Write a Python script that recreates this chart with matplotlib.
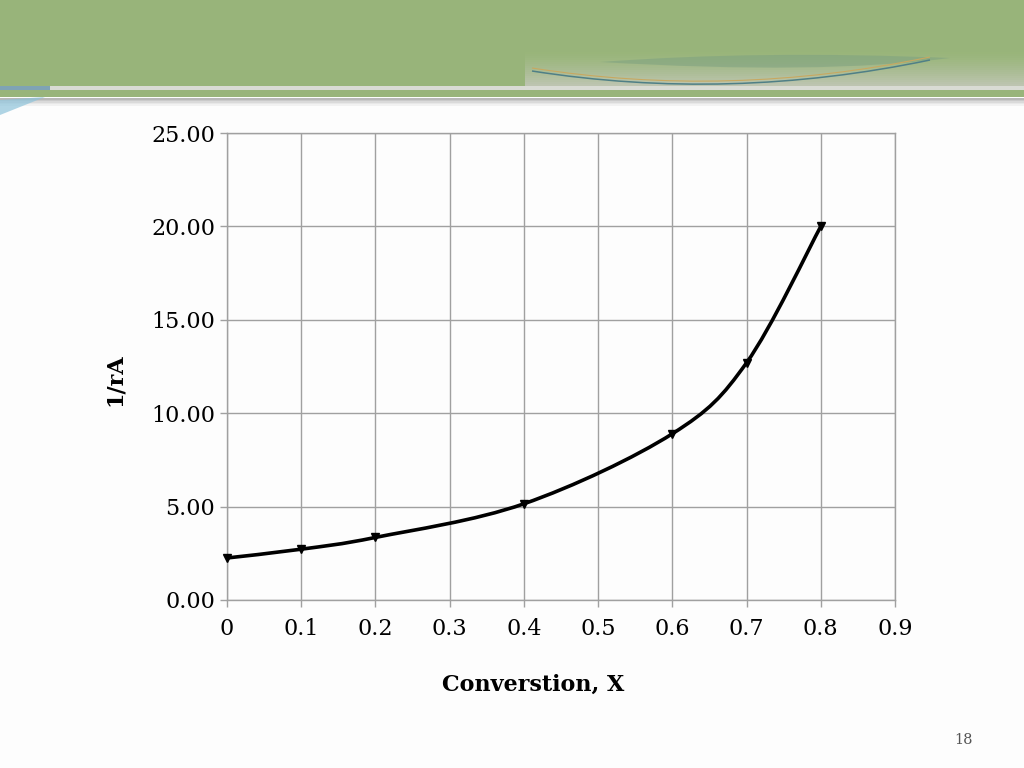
import matplotlib
matplotlib.use("Agg")
import matplotlib.pyplot as plt
import numpy as np
from matplotlib.path import Path
from matplotlib.patches import PathPatch, Rectangle, Polygon

# ---- data ----
conversion = [0.0, 0.1, 0.2, 0.4, 0.6, 0.7, 0.8]
inv_rate = [2.25, 2.72, 3.35, 5.15, 8.90, 12.70, 20.00]
x_ticks = [0, 0.1, 0.2, 0.3, 0.4, 0.5, 0.6, 0.7, 0.8, 0.9]
x_tick_labels = ["0", "0.1", "0.2", "0.3", "0.4", "0.5", "0.6", "0.7", "0.8", "0.9"]
y_ticks = [0, 5, 10, 15, 20, 25]
y_tick_labels = ["0.00", "5.00", "10.00", "15.00", "20.00", "25.00"]
x_title = "Converstion, X"
y_title = "1/rA"
page_number = "18"

SERIF = ["DejaVu Serif"]
W, H = 1024, 768


def fx(px):
    return px / W


def fy(py):
    return 1 - py / H


fig = plt.figure(figsize=(10.24, 7.68), dpi=100)
fig.patch.set_facecolor("#FDFDFD")
tf = fig.transFigure

# ---- slide header decoration ----
green = "#98B47A"
fig.add_artist(Rectangle((0, fy(86)), 1, 86 / H, transform=tf,
                         facecolor=green, edgecolor="none", zorder=0))
# lighter band on the right of the header (vertical gradient)
band_top, band_bot = 52, 86
nb = 17
for i in range(nb):
    f = (i / (nb - 1)) ** 1.3
    col = np.array([0.60, 0.71, 0.48]) * (1 - f) + np.array([0.74, 0.77, 0.69]) * f
    y0 = band_top + (band_bot - band_top) * i / nb
    fig.add_artist(Rectangle((fx(525), fy(y0 + (band_bot - band_top) / nb)), 1 - fx(525),
                             (band_bot - band_top) / nb / H, transform=tf,
                             facecolor=col, edgecolor="none", zorder=0.5))
# darker shaded lens above swoosh
lens = Path([(fx(600), fy(62)), (fx(760), fy(50)), (fx(950), fy(58)),
             (fx(820), fy(75)), (fx(600), fy(62))],
            [Path.MOVETO, Path.CURVE3, Path.CURVE3, Path.CURVE3, Path.CURVE3])
fig.add_artist(PathPatch(lens, transform=tf, facecolor="#7A9F80", edgecolor="none",
                         alpha=0.5, zorder=0.6))
# swoosh lines (quadratic Bezier)
for dy, c, lw in [(0, "#4F7F86", 1.1), (-3, "#C8A860", 0.8)]:
    sw = Path([(fx(532), fy(71 + dy)), (fx(729), fy(102 + dy)), (fx(930), fy(60 + dy))],
              [Path.MOVETO, Path.CURVE3, Path.CURVE3])
    fig.add_artist(PathPatch(sw, transform=tf, facecolor="none", edgecolor=c, lw=lw, zorder=0.7))
# light strip
fig.add_artist(Rectangle((0, fy(90)), 1, 4 / H, transform=tf,
                         facecolor="#D9DBD4", edgecolor="none", zorder=0.8))
fig.add_artist(Rectangle((0, fy(97)), 1, 7 / H, transform=tf,
                         facecolor=green, edgecolor="none", zorder=0.8))
# shadow under header
for i, c in enumerate(["#B8B8B8", "#CACACA", "#DADADA", "#E8E8E8", "#F2F2F2"]):
    fig.add_artist(Rectangle((0, fy(98 + (i + 1) * 1.5)), 1, 1.5 / H,
                             transform=tf, facecolor=c, edgecolor="none", zorder=0.8))
# little blue corner swoosh
fig.add_artist(Polygon([[0, fy(100)], [fx(45), fy(97)], [0, fy(115)]],
                       closed=True, transform=tf, facecolor="#8EC3DA",
                       edgecolor="none", alpha=0.7, zorder=0.9))
fig.add_artist(Rectangle((0, fy(90)), fx(50), 4 / H, transform=tf,
                         facecolor="#7FA3B5", edgecolor="none", zorder=0.9))

# ---- chart ----
ax = fig.add_axes([fx(227), fy(600), (895 - 227) / W, (600 - 133) / H])
ax.set_facecolor("#FDFDFD")
ax.set_xlim(0, 0.9)
ax.set_ylim(0, 25)
ax.set_xticks(x_ticks)
ax.set_xticklabels(x_tick_labels)
ax.set_yticks(y_ticks)
ax.set_yticklabels(y_tick_labels)
ax.grid(True, color="#A0A0A0", linewidth=1.0)
ax.set_axisbelow(True)
for s in ax.spines.values():
    s.set_color("#A0A0A0")
    s.set_linewidth(1.0)
ax.tick_params(axis="both", direction="out", length=5, width=1.0, color="#A0A0A0",
               labelsize=16)
ax.tick_params(axis="x", pad=8)
ax.tick_params(axis="y", pad=3.5)
for lab in ax.get_xticklabels() + ax.get_yticklabels():
    lab.set_family(SERIF)

# smoothed line (Catmull-Rom to cubic Bezier, like a spreadsheet "smoothed line")
pts = np.column_stack([np.array(conversion), np.array(inv_rate)])
n = len(pts)
verts = [pts[0]]
codes = [Path.MOVETO]
for i in range(n - 1):
    p0 = pts[i - 1] if i > 0 else pts[i]
    p1 = pts[i]
    p2 = pts[i + 1]
    p3 = pts[i + 2] if i + 2 < n else pts[i + 1]
    c1 = p1 + (p2 - p0) / 6.0
    c2 = p2 - (p3 - p1) / 6.0
    verts += [c1, c2, p2]
    codes += [Path.CURVE4] * 3
ax.add_patch(PathPatch(Path(verts, codes), facecolor="none", edgecolor="black",
                       linewidth=2.6, capstyle="round", joinstyle="round", zorder=3))
ax.plot(conversion, inv_rate, linestyle="none", marker="v", markersize=6,
        color="black", zorder=4, clip_on=False)

fig.text(fx(533), fy(685), x_title, ha="center", va="center",
         fontsize=16, fontweight="bold", family=SERIF)
fig.text(fx(115), fy(380), y_title, ha="center", va="center",
         fontsize=16, fontweight="bold", family=SERIF, rotation=90)
fig.text(fx(963), fy(740), page_number, ha="center", va="center",
         fontsize=10.5, color="#555555", family=SERIF)

fig.savefig("out.png", dpi=100, facecolor=fig.get_facecolor())
